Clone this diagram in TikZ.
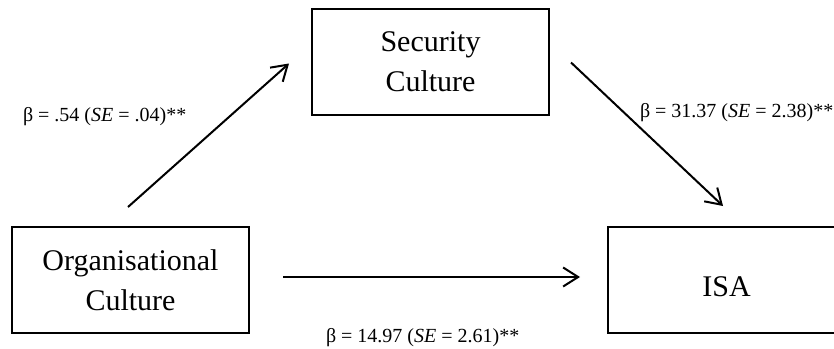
\documentclass[tikz,border=0pt]{standalone}
\usepackage{fontspec}
\setmainfont{Liberation Serif}
\usepackage{tikz}
\usetikzlibrary{positioning,arrows.meta}
\tikzset{>={Straight Barb[length=15pt,width=19pt]}}
\tikzset{var/.style={draw=black, line width=2pt, minimum width=237pt, minimum height=106pt, align=center, font=\fontsize{30}{40}\selectfont}}
\tikzset{coef/.style={inner sep=0pt, anchor=west, font=\fontsize{20}{24}\selectfont}}
\def\mycoef#1#2{β = #1 (\textit{SE} = #2)**}

\begin{document}
\begin{tikzpicture}[x=1pt, y=1pt, line width=2pt]
          \useasboundingbox (0,0) rectangle (834,-348);
          \node[var] (orgc) at (130.5,-280) {Organisational\\Culture};
          \node[var, above right=110pt and 61pt of orgc] (secc) {Security\\Culture};
          \node[var, right=357pt of orgc, minimum width=300pt, text height=34pt] (isa) {ISA\hspace*{63pt}};

          \node[coef] (ca) at (22,-117) {\mycoef{.54}{.04}};
          \node[coef] (cb) at (639,-113) {\mycoef{31.37}{2.38}};
          \node[coef] (cc) at (325,-338) {\mycoef{14.97}{2.61}};

          \draw[->] ([shift={(-2.5,19)}]orgc.north) -- ([shift={(-22,-1.5)}]secc.west);
          \draw[->] ([shift={(21,-0.5)}]secc.east) -- ([shift={(-35,20)}]isa.north);
          \draw[->] ([shift={(33,3)}]orgc.east) -- ([shift={(-27,3)}]isa.west);
        \end{tikzpicture}
\end{document}
